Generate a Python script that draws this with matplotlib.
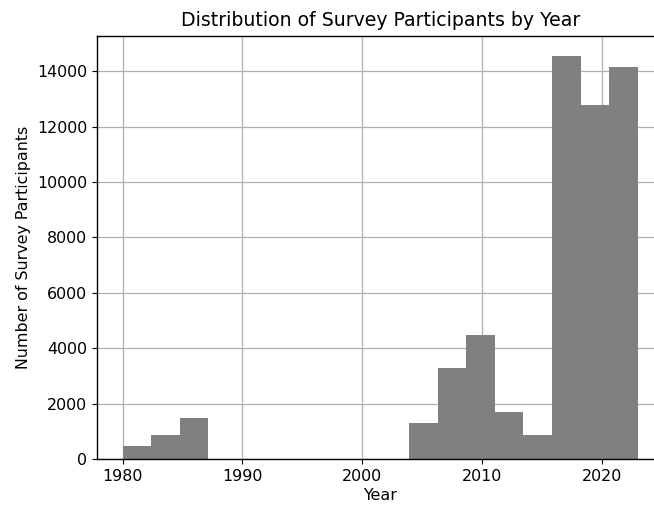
import numpy as np
import matplotlib
matplotlib.use('Agg')
import matplotlib.pyplot as plt

# participants per year bin (18 equal bins from 1980 to 2023)
year_start = 1980
year_end = 2023
n_bins = 18
bin_counts = [480, 860, 1470, 0, 0, 0, 0, 0, 0, 0,
              1295, 3300, 4480, 1700, 880, 14540, 12790, 14145]

title = 'Distribution of Survey Participants by Year'
x_label = 'Year'
y_label = 'Number of Survey Participants'

edges = np.linspace(year_start, year_end, n_bins + 1)
centers = (edges[:-1] + edges[1:]) / 2

fig = plt.figure(figsize=(6.54, 5.07), dpi=100)
ax = fig.add_axes([0.148, 0.0947, 0.867, 0.8343])

ax.hist(centers, bins=edges, weights=bin_counts, color='grey', zorder=2)
ax.grid(True, color='#b0b0b0', linewidth=0.9, zorder=0)
ax.set_axisbelow(True)

ax.set_title(title, fontsize=13.6, pad=7)
ax.set_xlabel(x_label, fontsize=11.4, labelpad=3)
ax.set_ylabel(y_label, fontsize=11.4)
ax.tick_params(labelsize=11.4)
for sp in ax.spines.values():
    sp.set_linewidth(1.0)

fig.savefig('out.png', dpi=100)
